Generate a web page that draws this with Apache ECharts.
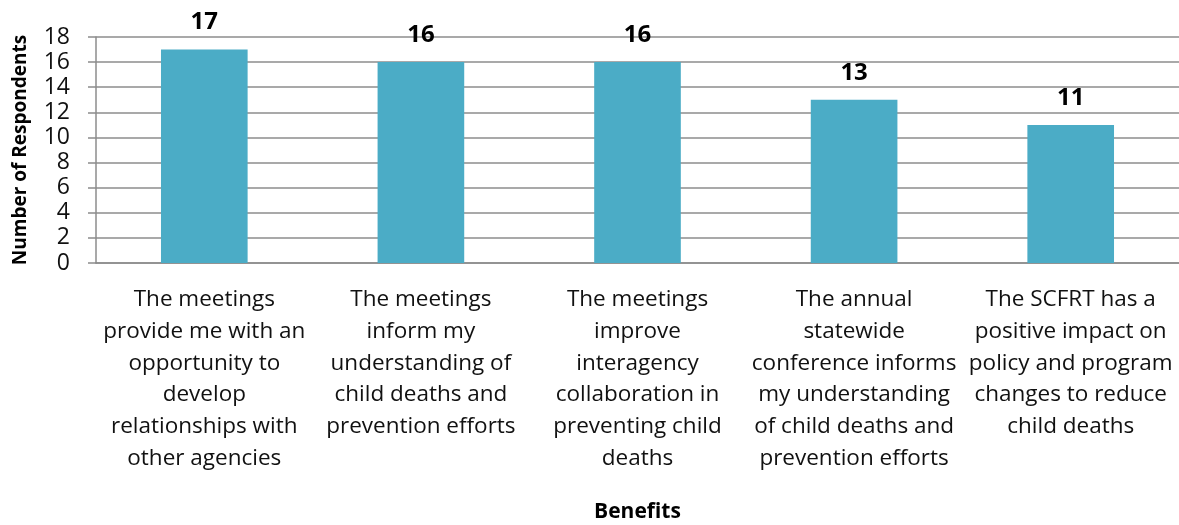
<!DOCTYPE html>
<html>
<head>
<meta charset="utf-8">
<script src="https://cdn.jsdelivr.net/npm/echarts@6/dist/echarts.min.js"></script>
<style>html,body{margin:0;padding:0;background:#fff;}#c{width:1179px;height:525px;}</style>
</head>
<body>
<div id="c"></div>
<script>
const categories = [
  "The meetings\nprovide me with an\nopportunity to\ndevelop\nrelationships with\nother agencies",
  "The meetings\ninform my\nunderstanding of\nchild deaths and\nprevention efforts",
  "The meetings\nimprove\ninteragency\ncollaboration in\npreventing child\ndeaths",
  "The annual\nstatewide\nconference informs\nmy understanding\nof child deaths and\nprevention efforts",
  "The SCFRT has a\npositive impact on\npolicy and program\nchanges to reduce\nchild deaths"
];
const values = [17, 16, 16, 13, 11];
const yTicks = { min: 0, max: 18, interval: 2 };
const xTitle = "Benefits";
const yTitle = "Number of Respondents";

const font = "'Open Sans', 'Noto Sans', sans-serif";
const chart = echarts.init(document.getElementById('c'), null, { renderer: 'canvas' });
chart.setOption({
  animation: false,
  grid: { left: 96, right: 0, top: 37, bottom: 262, outerBoundsMode: 'none', containLabel: false },
  xAxis: {
    type: 'category',
    data: categories,
    name: xTitle,
    nameLocation: 'middle',
    nameGap: 239,
    nameTextStyle: { fontFamily: font, fontSize: 21, fontWeight: 'bold', color: '#000' },
    axisLine: { lineStyle: { color: '#8c8c8c', width: 1.5 } },
    axisTick: { show: false },
    axisLabel: { interval: 0, margin: 21, fontFamily: font, fontSize: 22.5, lineHeight: 31.7, color: '#111' }
  },
  yAxis: {
    type: 'value',
    min: yTicks.min, max: yTicks.max, interval: yTicks.interval,
    name: yTitle,
    nameLocation: 'middle',
    nameGap: 66,
    nameTextStyle: { fontFamily: font, fontSize: 19, fontWeight: 'bold', color: '#000' },
    axisLine: { show: true, lineStyle: { color: '#8c8c8c', width: 1.5 } },
    axisTick: { show: true, length: 8, lineStyle: { color: '#8c8c8c', width: 1.5 } },
    splitLine: { lineStyle: { color: '#8c8c8c', width: 1.5 } },
    axisLabel: { margin: 26, fontFamily: font, fontSize: 23, color: '#111' }
  },
  series: [{
    type: 'bar',
    data: values,
    barWidth: '40%',
    itemStyle: { color: '#4bacc6' },
    label: { show: true, position: 'top', distance: 15, fontFamily: font, fontSize: 24, fontWeight: 'bold', color: '#000' }
  }]
});
</script>
</body>
</html>
